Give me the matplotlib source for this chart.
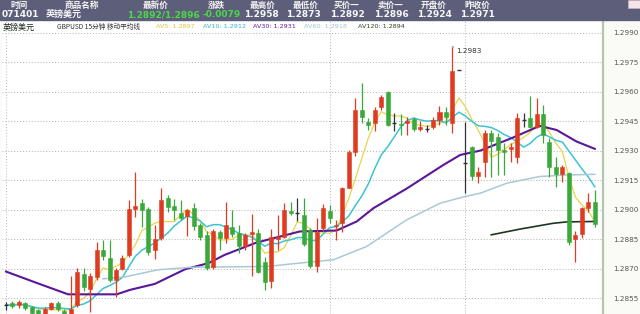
import matplotlib
matplotlib.use("Agg")
import matplotlib.pyplot as plt
from matplotlib.patches import Rectangle
import numpy as np
import pandas as pd

plt.rcParams['font.family'] = ['Noto Sans CJK SC', 'DejaVu Sans']

# ---------------- data ----------------
opens = [1.28516, 1.28526, 1.28516, 1.28526, 1.28502, 1.28490, 1.28460, 1.28495, 1.28526, 1.28485,
         1.28460, 1.28516, 1.28673, 1.28595, 1.28658, 1.28795, 1.28755, 1.28643, 1.28699, 1.28770,
         1.29003, 1.29035, 1.29004, 1.28795, 1.28857, 1.29062, 1.29021, 1.28984, 1.28969, 1.29011,
         1.28923, 1.28872, 1.28707, 1.28884, 1.28855, 1.28914, 1.28880, 1.28816, 1.28877, 1.28880,
         1.28736, 1.28638, 1.28853, 1.28863, 1.28994, 1.28985, 1.28974, 1.28897, 1.28714, 1.28906,
         1.28994, 1.28915, 1.28934, 1.29113, 1.29296, 1.29508, 1.29449, 1.29440, 1.29525, 1.29598,
         1.29443, 1.29437, 1.29440, 1.29462, 1.29410, 1.29410, 1.29420, 1.29457, 1.29499, 1.29443,
         1.29710, 1.29237, 1.29321, 1.29172, 1.29245, 1.29390, 1.29369, 1.29304, 1.29311, 1.29270,
         1.29457, 1.29469, 1.29423, 1.29486, 1.29347, 1.29220, 1.29182, 1.29189, 1.28850, 1.28877,
         1.29008, 1.29041]
highs = [1.28531, 1.28536, 1.28541, 1.28532, 1.28510, 1.28495, 1.28505, 1.28532, 1.28536, 1.28495,
         1.28660, 1.28704, 1.28704, 1.28678, 1.28833, 1.28846, 1.28846, 1.28704, 1.28770, 1.29050,
         1.29194, 1.29055, 1.29016, 1.28923, 1.29111, 1.29075, 1.29055, 1.29050, 1.29004, 1.29035,
         1.28933, 1.28889, 1.28902, 1.28897, 1.29041, 1.28999, 1.28923, 1.28882, 1.28980, 1.28902,
         1.28761, 1.28901, 1.28974, 1.29036, 1.29041, 1.29062, 1.29060, 1.28907, 1.28957, 1.29030,
         1.29025, 1.28948, 1.29118, 1.29304, 1.29568, 1.29644, 1.29467, 1.29525, 1.29584, 1.29605,
         1.29491, 1.29488, 1.29474, 1.29472, 1.29454, 1.29432, 1.29472, 1.29528, 1.29525, 1.29830,
         1.29710, 1.29449, 1.29325, 1.29220, 1.29406, 1.29406, 1.29391, 1.29340, 1.29340, 1.29494,
         1.29491, 1.29579, 1.29568, 1.29534, 1.29364, 1.29270, 1.29228, 1.29192, 1.28889, 1.29016,
         1.29084, 1.29101]
lows = [1.28490, 1.28500, 1.28500, 1.28490, 1.28465, 1.28455, 1.28450, 1.28490, 1.28485, 1.28450,
        1.28450, 1.28505, 1.28588, 1.28480, 1.28643, 1.28745, 1.28634, 1.28556, 1.28694, 1.28760,
        1.28965, 1.28914, 1.28770, 1.28750, 1.28846, 1.28990, 1.28948, 1.28948, 1.28867, 1.28897,
        1.28846, 1.28694, 1.28699, 1.28795, 1.28831, 1.28863, 1.28782, 1.28795, 1.28660, 1.28678,
        1.28592, 1.28600, 1.28795, 1.28857, 1.28974, 1.28940, 1.28816, 1.28704, 1.28685, 1.28890,
        1.28934, 1.28846, 1.28884, 1.29111, 1.29274, 1.29443, 1.29406, 1.29403, 1.29508, 1.29427,
        1.29403, 1.29381, 1.29381, 1.29401, 1.29403, 1.29398, 1.29411, 1.29432, 1.29432, 1.29393,
        1.29710, 1.29084, 1.29152, 1.29135, 1.29169, 1.29169, 1.29177, 1.29177, 1.29245, 1.29237,
        1.29423, 1.29415, 1.29416, 1.29339, 1.29169, 1.29118, 1.29143, 1.28821, 1.28736, 1.28855,
        1.28990, 1.28914]
closes = [1.28516, 1.28510, 1.28532, 1.28500, 1.28475, 1.28460, 1.28495, 1.28526, 1.28495, 1.28460,
          1.28495, 1.28685, 1.28607, 1.28663, 1.28795, 1.28765, 1.28643, 1.28694, 1.28755, 1.29004,
          1.29019, 1.28996, 1.28787, 1.28851, 1.29050, 1.29013, 1.28996, 1.28958, 1.28996, 1.28918,
          1.28860, 1.28702, 1.28892, 1.28855, 1.28923, 1.28877, 1.28816, 1.28872, 1.28884, 1.28685,
          1.28634, 1.28860, 1.28860, 1.28996, 1.28985, 1.28985, 1.28826, 1.28714, 1.28884, 1.29011,
          1.28957, 1.28920, 1.29113, 1.29296, 1.29508, 1.29474, 1.29432, 1.29508, 1.29573, 1.29432,
          1.29443, 1.29430, 1.29454, 1.29410, 1.29420, 1.29410, 1.29457, 1.29499, 1.29471, 1.29708,
          1.29710, 1.29237, 1.29172, 1.29191, 1.29390, 1.29352, 1.29304, 1.29294, 1.29321, 1.29469,
          1.29457, 1.29423, 1.29486, 1.29381, 1.29216, 1.29182, 1.29216, 1.28838, 1.28872, 1.29011,
          1.29041, 1.28928]

# long moving averages (bar index, price)
ma30_idx = [0, 4.5, 9.6, 17.1, 19.2, 23.0, 27.7, 31.3, 33.8, 38.5, 40.3, 45.4, 51.1, 54.2, 56.8,
            61.9, 67.6, 70.2, 73.3, 78.4, 82.5, 85.1, 88.2, 91]
ma30_val = [1.28685, 1.28630, 1.28569, 1.28569, 1.28592, 1.28622, 1.28697, 1.28728, 1.28770, 1.28830,
            1.28846, 1.28889, 1.28894, 1.28940, 1.29008, 1.29107, 1.29228, 1.29279, 1.29301, 1.29368,
            1.29427, 1.29406, 1.29347, 1.29310]
ma60_idx = [15.0, 18.4, 23.5, 28.7, 40.3, 45.4, 50.6, 55.7, 61.9, 67.1, 70.9, 73.3, 77.4, 82.5, 86.7, 91]
ma60_val = [1.28648, 1.28658, 1.28694, 1.28707, 1.28711, 1.28728, 1.28745, 1.28812, 1.28948, 1.29033,
            1.29067, 1.29084, 1.29135, 1.29169, 1.29177, 1.29180]
ma120_idx = [75.0, 79.4, 84.6, 86.7, 91]
ma120_val = [1.28872, 1.28901, 1.28931, 1.28938, 1.28940]

yticks = [1.2855, 1.2870, 1.2885, 1.2900, 1.2915, 1.2930, 1.2945, 1.2960, 1.2975, 1.2990]
day_lines = [0, 50, 71]
peak_label = "1.2983"
peak_index = 69

head_labels = ["时间", "商品名称", "最新价", "涨跌", "最高价", "最低价", "买价一", "卖价一", "开盘价", "昨收价"]
head_values = ["071401", "英镑美元", "1.2892/1.2896", "-0.0079", "1.2958", "1.2873", "1.2892", "1.2896", "1.2924", "1.2971"]

# ---------------- figure ----------------
W, H = 640, 314
fig = plt.figure(figsize=(W / 100, H / 100), dpi=100, facecolor='#fafaf6')

def fx(px):
    return px / W

def fy(py):
    return 1 - py / H

ax = fig.add_axes([fx(2), 0, fx(601), (H - 20) / H])
ax.set_facecolor('white')

n = len(closes)
idx = np.arange(n)
o = np.array(opens); c = np.array(closes); hi = np.array(highs); lo = np.array(lows)

UP = '#de3b20'
DOWN = '#3aa83a'
DOJI = '#333333'

closes_s = pd.Series(closes)
ma5 = closes_s.rolling(5, min_periods=1).mean()
ma10 = closes_s.rolling(10, min_periods=1).mean()

ax.plot(idx, ma5, color='#e6d44a', lw=0.9, zorder=2)
ax.plot(idx, ma10, color='#3cc4d4', lw=1.1, zorder=2)
ax.plot(ma30_idx, ma30_val, color='#5a1796', lw=1.5, zorder=2)
ax.plot(ma60_idx, ma60_val, color='#a8cad6', lw=1.1, zorder=2)
ax.plot(ma120_idx, ma120_val, color='#1e361e', lw=1.2, zorder=2)

bw = 0.62
for i in range(n):
    if abs(c[i] - o[i]) < 1e-6:
        col = DOJI
    elif c[i] > o[i]:
        col = UP
    else:
        col = DOWN
    ax.vlines(i, lo[i], hi[i], color=col, lw=0.9, zorder=3)
    if col == DOJI:
        ax.hlines(o[i], i - bw / 2, i + bw / 2, color=col, lw=1.0, zorder=4)
    else:
        ax.bar(i, abs(c[i] - o[i]), bottom=min(o[i], c[i]), width=bw, color=col,
               edgecolor=col, lw=0.4, zorder=4)

ax.annotate(peak_label, xy=(peak_index, highs[peak_index]), xytext=(4, -4),
            textcoords='offset pixels', ha='left', va='center', fontsize=5.2, color='#333',
            family='DejaVu Sans',
            arrowprops=dict(arrowstyle='-', lw=0.6, color='#555', shrinkA=0, shrinkB=0))

for d in day_lines:
    ax.axvline(d, color='#b5b5b5', lw=0.7, ls=(0, (1, 2)), zorder=1)

ax.set_xlim(-0.618, 92.27)
ax.set_ylim(1.284688, 1.299662)
ax.set_yticks(yticks)
ax.set_yticklabels([f"{v:.4f}" for v in yticks])
ax.yaxis.tick_right()
ax.tick_params(axis='y', length=0, pad=7, labelsize=5.2, labelcolor='#555')
ax.set_xticks([])
ax.grid(axis='y', color='#b0b0b0', lw=0.7, ls=(0, (1, 2)))
ax.set_axisbelow(True)
for s in ['top', 'left', 'bottom']:
    ax.spines[s].set_visible(False)
ax.spines['right'].set_color('#b4c6ae')
ax.spines['right'].set_linewidth(1.6)
for lab in ax.get_yticklabels():
    lab.set_family('DejaVu Sans')

# ---------------- header ----------------
fig.add_artist(Rectangle((0, fy(20)), 1, 20 / H, transform=fig.transFigure,
                         color='#5d5f7a', zorder=10))
fig.add_artist(Rectangle((fx(628), fy(8)), fx(12), 8 / H, transform=fig.transFigure,
                         facecolor='#f2e6ea', edgecolor='#c9b0b8', lw=0.5, zorder=11))

label_x = [19, 82, 156, 216, 263, 306, 347, 391, 434, 477]
for t, x in zip(head_labels, label_x):
    fig.text(fx(x), fy(5.2), t, ha='center', va='center', fontsize=6.2, color='#f4f4f4',
             fontweight='bold', zorder=12)

value_x = [20, 64, 163, 222, 261, 303, 347, 391, 434, 477]
for k, (t, x) in enumerate(zip(head_values, value_x)):
    col = '#4ad84a' if k in (2, 3) else '#f8f8f8'
    fam = ['Noto Sans CJK SC', 'DejaVu Sans'] if k == 1 else ['DejaVu Sans']
    fig.text(fx(x), fy(14.5), t, ha='center', va='center', fontsize=6.5, color=col,
             fontweight='bold', family=fam, zorder=12)

# second info row
fig.text(fx(3), fy(27), "英镑美元", ha='left', va='center', fontsize=5.8, color='#1d2a1d', zorder=12)
fig.text(fx(57), fy(27), "GBPUSD 15分钟 移动平均线", ha='left', va='center', fontsize=4.8,
         color='#333', zorder=12)
av_texts = ["AV5: 1.2897", "AV10: 1.2912", "AV30: 1.2931", "AV60: 1.2918", "AV120: 1.2894"]
av_x = [156, 203, 253, 304, 358]
av_cols = ['#d6c838', '#2fb6c6', '#6a1aa6', '#9fc3cf', '#2c4222']
for t, x, col in zip(av_texts, av_x, av_cols):
    fig.text(fx(x), fy(27), t, ha='left', va='center', fontsize=4.6, color=col,
             family='DejaVu Sans', zorder=12)

fig.savefig('out.png', dpi=100, facecolor=fig.get_facecolor())
